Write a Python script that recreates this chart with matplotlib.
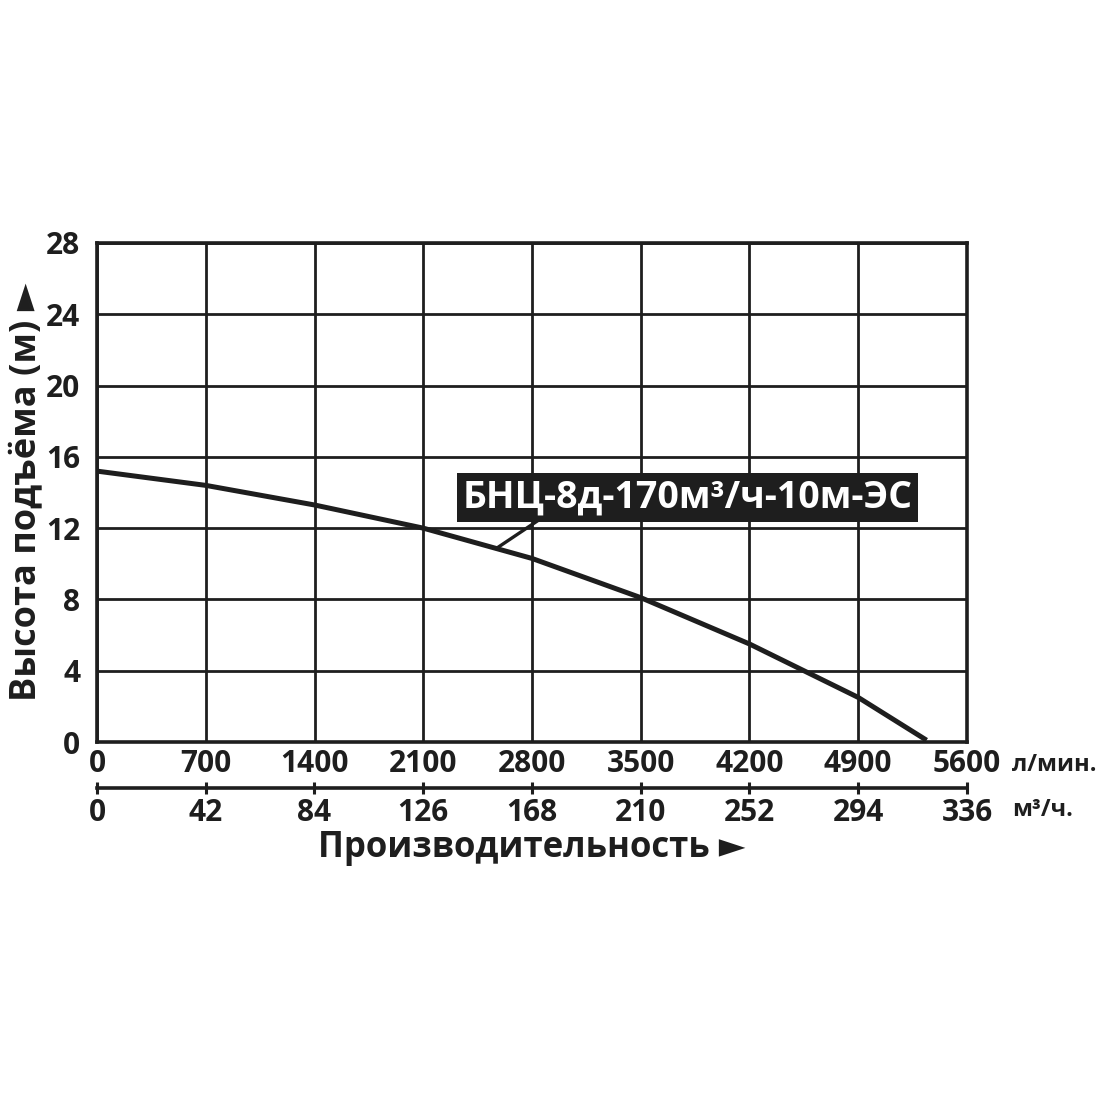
import numpy as np
import matplotlib
matplotlib.use('Agg')
from matplotlib import pyplot as plt

# flow (л/мин) and head (м)
flow_lpm = [0, 700, 1400, 2100, 2800, 3500, 4200, 4550, 4900, 5340]
head_m = [15.2, 14.4, 13.3, 12.0, 10.3, 8.1, 5.5, 4.0, 2.5, 0.1]

x_ticks = [0, 700, 1400, 2100, 2800, 3500, 4200, 4900, 5600]
y_ticks = [0, 4, 8, 12, 16, 20, 24, 28]
m3h_ticks = [0, 42, 84, 126, 168, 210, 252, 294, 336]

model_name = 'БНЦ-8д-170м³/ч-10м-ЭС'
ink = '#1e1e1e'

plt.rcParams['font.family'] = ['Open Sans', 'DejaVu Sans']
plt.rcParams['font.weight'] = 'bold'

fig = plt.figure(figsize=(11, 11), dpi=100)
ax = fig.add_axes([97 / 1100, 358 / 1100, 870 / 1100, 499 / 1100])

ax.plot(flow_lpm, head_m, color=ink, lw=3.6, solid_capstyle='butt', zorder=3)

ax.set_xlim(0, 5600)
ax.set_ylim(0, 28)
ax.set_xticks(x_ticks)
ax.set_yticks(y_ticks)
ax.grid(True, color=ink, lw=2.0)
ax.set_axisbelow(True)
for s in ax.spines.values():
	s.set_linewidth(2.6)
	s.set_color(ink)
ax.tick_params(length=0, labelsize=21.5, colors=ink)
ax.tick_params(axis='x', pad=5)
ax.tick_params(axis='y', pad=12)
for lab in ax.get_xticklabels() + ax.get_yticklabels():
	lab.set_fontweight('bold')

# second scale in м³/ч
sec = ax.secondary_xaxis(-0.092, functions=(lambda v: v * 0.06, lambda v: v / 0.06))
sec.set_xticks(m3h_ticks)
sec.spines['bottom'].set_linewidth(2.6)
sec.spines['bottom'].set_color(ink)
sec.tick_params(direction='inout', length=9, width=2.2, labelsize=21.5, colors=ink, pad=3)
for lab in sec.get_xticklabels():
	lab.set_fontweight('bold')

fig.text(1012 / 1100, 1 - 765 / 1100, 'л/мин.', fontsize=17, fontweight='bold', color=ink, va='center')
fig.text(1012 / 1100, 1 - 810 / 1100, 'м³/ч.', fontsize=17, fontweight='bold', color=ink, va='center')

fig.text(532 / 1100, 1 - 848 / 1100, 'Производительность ►', fontsize=25, fontweight='bold',
	color=ink, ha='center', va='center')
fig.text(27 / 1100, 1 - 492 / 1100, 'Высота подъёма (м) ►', fontsize=26, fontweight='bold',
	color=ink, ha='center', va='center', rotation=90)

# model label with leader line
ax.plot([2577, 2834], [10.9, 12.4], color=ink, lw=2.4, zorder=3)
ax.text(3799, 13.7, model_name, fontsize=27, fontweight='bold', color='white',
	ha='center', va='center', zorder=4,
	bbox=dict(boxstyle='square,pad=0.15', fc=ink, ec='none'))

fig.savefig('out.png', dpi=100, facecolor='white')
